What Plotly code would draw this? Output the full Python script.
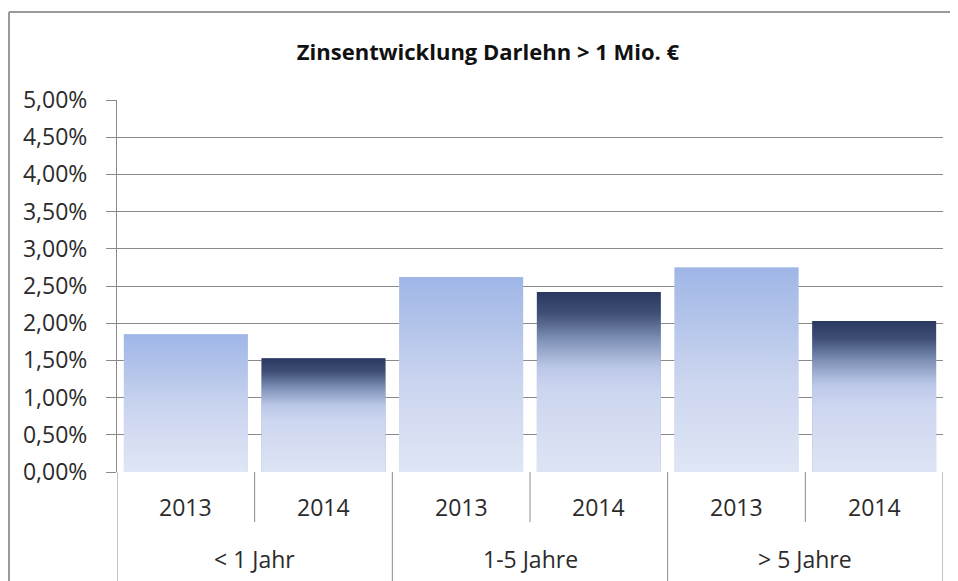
import plotly.graph_objects as go

# ---- data ----
groups = ["< 1 Jahr", "< 1 Jahr", "1-5 Jahre", "1-5 Jahre", "> 5 Jahre", "> 5 Jahre"]
years = ["2013", "2014", "2013", "2014", "2013", "2014"]
values = [1.85, 1.53, 2.62, 2.42, 2.75, 2.03]  # Zinssatz in %
group_names = ["< 1 Jahr", "1-5 Jahre", "> 5 Jahre"]
title_text = "Zinsentwicklung Darlehn > 1 Mio. €"

# ---- styling ----
FONT = "Open Sans, DejaVu Sans, sans-serif"
TXT = "#2b2b2b"
GRID = "#8a8a8a"
BAR_W = 0.9
scale_2013 = [[0, "#dfe6f5"], [0.45, "#cbd5ef"], [1, "#9fb6e6"]]
scale_2014 = [[0, "#dde4f4"], [0.45, "#cdd6f0"], [0.58, "#bcc8e8"], [0.73, "#8294b9"],
              [0.88, "#3f4f76"], [1, "#2a3860"]]

# page offset (browser body margin)
O = 8
W, H = 958 - O, 581 - O
ML, MT = 117 - O, 100 - O
PW, PH = 826, 372
MR = W - ML - PW
MB = H - MT - PH

def px2paper_x(px):  # page pixel -> paper
    return (px - O - ML) / PW

def px2paper_y(py):
    return (MT + PH - (py - O)) / PH

xs = list(range(len(values)))

fig = go.Figure()

# data bars
fig.add_trace(go.Bar(
    x=xs, y=values, width=BAR_W,
    marker=dict(color=["#c3cfee" if y == "2013" else "#8a9cc2" for y in years], line=dict(width=0)),
    customdata=[[g, y] for g, y in zip(groups, years)],
    hovertemplate="%{customdata[0]} %{customdata[1]}: %{y:.2f}%<extra></extra>",
    showlegend=False,
))

# gradient overlays, computed from the same values
for i, (v, yr) in enumerate(zip(values, years)):
    x0, x1 = i - BAR_W / 2, i + BAR_W / 2
    fig.add_trace(go.Scatter(
        x=[x0, x1, x1, x0, x0], y=[0, 0, v, v, 0],
        mode="lines", line=dict(width=0), fill="toself",
        fillgradient=dict(type="vertical", start=0, stop=v,
                          colorscale=scale_2013 if yr == "2013" else scale_2014),
        hoverinfo="skip", showlegend=False,
    ))

shapes = []
# outer chart frame (top and left edges visible)
FR = dict(color="#9a9a9a", width=2)
shapes.append(dict(type="line", xref="paper", yref="paper",
                   x0=px2paper_x(9), x1=px2paper_x(1100), y0=px2paper_y(12), y1=px2paper_y(12), line=FR))
shapes.append(dict(type="line", xref="paper", yref="paper",
                   x0=px2paper_x(9), x1=px2paper_x(9), y0=px2paper_y(12), y1=px2paper_y(581), line=FR))
# category table lines below the axis
n = len(values)
for k in range(n + 1):
    b = k - 0.5
    if k in (0, n) or groups[k] != groups[k - 1]:
        y_end = px2paper_y(581)
    else:
        y_end = px2paper_y(522)
    shapes.append(dict(type="line", xref="x", yref="paper", x0=b, x1=b, y0=0, y1=y_end,
                       line=dict(color=GRID, width=1)))

annotations = []
for i, yr in enumerate(years):
    annotations.append(dict(x=i, y=px2paper_y(507), xref="x", yref="paper", text=yr,
                            showarrow=False, font=dict(family=FONT, size=23, color=TXT),
                            xanchor="center", yanchor="middle"))
for g in group_names:
    idx = [i for i, gg in enumerate(groups) if gg == g]
    annotations.append(dict(x=sum(idx) / len(idx), y=px2paper_y(559), xref="x", yref="paper", text=g,
                            showarrow=False, font=dict(family=FONT, size=23, color=TXT),
                            xanchor="center", yanchor="middle"))

fig.update_layout(
    width=W, height=H,
    margin=dict(l=ML, r=MR, t=MT, b=MB, autoexpand=False),
    paper_bgcolor="white", plot_bgcolor="white",
    separators=",.",
    title=dict(text="<b>" + title_text + "</b>", xref="container", yref="container",
               x=(488 - O) / W, y=1 - (52 - O) / H, xanchor="center", yanchor="middle",
               font=dict(family=FONT, size=22, color="#111")),
    xaxis=dict(range=[-0.5, n - 0.5], showticklabels=False, showgrid=False, zeroline=False,
               ticks="", showline=False, fixedrange=True),
    yaxis=dict(range=[0, 5], dtick=0.5, tickformat=".2f", ticksuffix="%",
               showgrid=True, gridcolor=GRID, gridwidth=1, zeroline=False,
               showline=True, linecolor=GRID, linewidth=1,
               ticks="outside", ticklen=10, tickcolor=GRID, ticklabelstandoff=14,
               tickfont=dict(family=FONT, size=23, color=TXT)),
    shapes=shapes, annotations=annotations,
    showlegend=False, bargap=0.1,
)

fig.write_html("out.html", config={"displayModeBar": False})
